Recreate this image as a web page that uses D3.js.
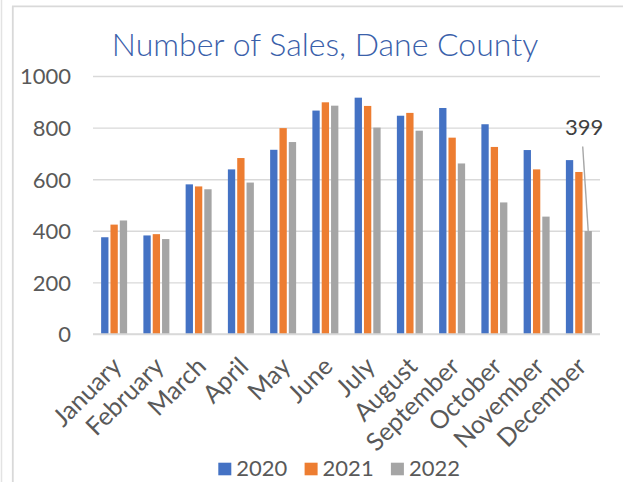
<!DOCTYPE html>
<html>
<head>
<meta charset="utf-8">
<script src="https://cdn.jsdelivr.net/npm/d3@7/dist/d3.min.js"></script>
<style>
  html, body { margin: 0; padding: 0; background: #fff; }
  svg { display: block; }
  text { font-family: Lato, "Open Sans", sans-serif; }
</style>
</head>
<body>
<svg id="chart" width="623" height="482"></svg>
<script>
const months = ["January","February","March","April","May","June","July","August","September","October","November","December"];
const seriesNames = ["2020","2021","2022"];
const sales2020 = [375, 382, 580, 638, 714, 866, 916, 846, 876, 813, 713, 674];
const sales2021 = [424, 387, 572, 682, 798, 898, 884, 857, 761, 725, 638, 628];
const sales2022 = [440, 368, 561, 587, 744, 885, 800, 788, 661, 510, 455, 399];
const yTicks = [0, 200, 400, 600, 800, 1000];
const colors = ["#4472C4", "#ED7D31", "#A5A5A5"];
const titleText = "Number of Sales, Dane County";

const seriesValues = [sales2020, sales2021, sales2022];
const data = months.map((m, i) => ({
  month: m,
  values: seriesNames.map((s, j) => ({ series: s, value: seriesValues[j][i], idx: j }))
}));

const svg = d3.select("#chart");

// frame lines
svg.append("line").attr("x1", 1.5).attr("x2", 1.5).attr("y1", 0).attr("y2", 482)
  .attr("stroke", "#e3e3e3").attr("stroke-width", 1.5);
svg.append("line").attr("x1", 12.8).attr("x2", 12.8).attr("y1", 6.3).attr("y2", 482)
  .attr("stroke", "#d9d9d9").attr("stroke-width", 1.8);
svg.append("line").attr("x1", 12).attr("x2", 623).attr("y1", 6.3).attr("y2", 6.3)
  .attr("stroke", "#d9d9d9").attr("stroke-width", 1.8);

const plotLeft = 93, plotRight = 600, plotTop = 76, plotBottom = 334;

const x0 = d3.scaleBand().domain(months).range([plotLeft, plotRight])
  .paddingInner(0.385).paddingOuter(0.1925);
const x1 = d3.scaleBand().domain(seriesNames).range([0, x0.bandwidth()])
  .paddingInner(0.215).paddingOuter(0);
const y = d3.scaleLinear().domain([0, 1000]).range([plotBottom, plotTop]);

// gridlines + y labels
const yAxis = d3.axisLeft(y).tickValues(yTicks).tickFormat(d3.format("d"))
  .tickSize(-(plotRight - plotLeft)).tickPadding(22);
const gy = svg.append("g").attr("transform", `translate(${plotLeft},0)`).call(yAxis);
gy.select(".domain").remove();
gy.selectAll(".tick line").attr("stroke", "#d9d9d9").attr("stroke-width", 1.4);
gy.selectAll(".tick text").attr("fill", "#595959").style("font-size", "22px")
  .attr("dy", "0.36em");

// title
svg.append("text").attr("x", 325).attr("y", 56).attr("text-anchor", "middle")
  .attr("fill", "#3A60AA").style("font-size", "32px").style("font-weight", 300)
  .text(titleText);

// bars
const groups = svg.append("g").selectAll("g").data(data).join("g")
  .attr("transform", d => `translate(${x0(d.month)},0)`);
groups.selectAll("rect").data(d => d.values).join("rect")
  .attr("x", d => x1(d.series))
  .attr("width", x1.bandwidth())
  .attr("y", d => y(d.value))
  .attr("height", d => y(0) - y(d.value))
  .attr("fill", d => colors[d.idx]);

// x axis line at 0
svg.append("line").attr("x1", plotLeft).attr("x2", plotRight).attr("y1", y(0)).attr("y2", y(0))
  .attr("stroke", "#d9d9d9").attr("stroke-width", 1.4);

// month labels
const xAxis = d3.axisBottom(x0).tickSize(0).tickPadding(0);
const gx = svg.append("g").attr("transform", `translate(0,${plotBottom})`).call(xAxis);
gx.select(".domain").remove();
gx.selectAll(".tick text")
  .attr("fill", "#595959").style("font-size", "25px")
  .attr("text-anchor", "end")
  .attr("dy", 0)
  .attr("transform", "translate(9,34) rotate(-45)");

// data label for December 2022
const decX = x0("December") + x1("2022") + x1.bandwidth() / 2;
const decY = y(sales2022[11]);
svg.append("line")
  .attr("x1", decX - 5.5).attr("y1", decY - 84.5)
  .attr("x2", decX).attr("y2", decY)
  .attr("stroke", "#a6a6a6").attr("stroke-width", 1.4);
svg.append("text").attr("x", decX - 4).attr("y", decY - 96)
  .attr("text-anchor", "middle").attr("fill", "#404040").style("font-size", "22px")
  .text(sales2022[11]);

// legend
const legend = svg.append("g").selectAll("g").data(seriesNames).join("g")
  .attr("transform", (d, i) => `translate(${218.3 + i * 86.3},462.7)`);
legend.append("rect").attr("width", 13).attr("height", 12.6)
  .attr("fill", (d, i) => colors[i]);
legend.append("text").attr("x", 18).attr("y", 13).attr("fill", "#595959")
  .style("font-size", "22px").text(d => d);
</script>
</body>
</html>
